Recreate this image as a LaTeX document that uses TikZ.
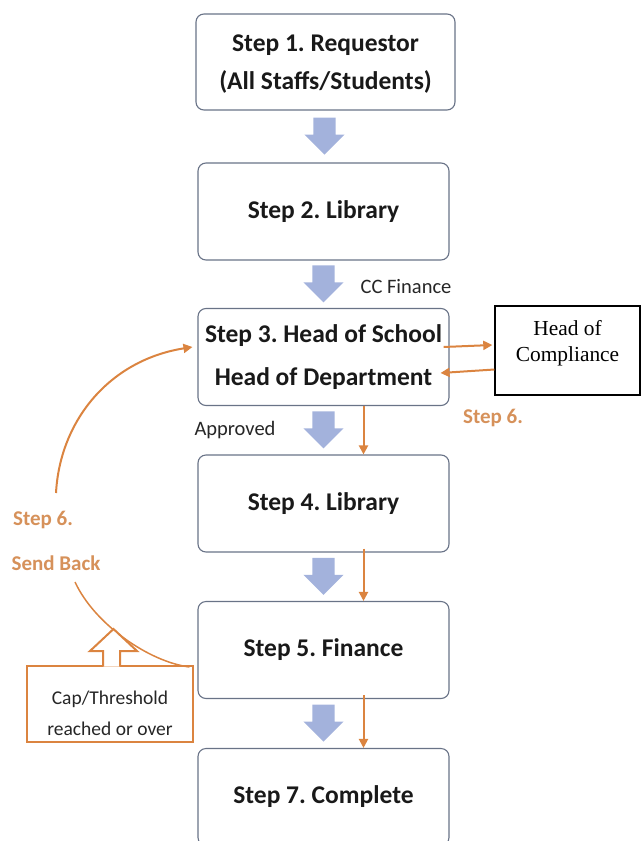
\documentclass[tikz,border=0pt]{standalone}
\usepackage{fontspec}
\setmainfont{Carlito}
\newfontfamily\hocfont{Liberation Serif}
\usetikzlibrary{arrows.meta,calc,shapes.arrows}
\frenchspacing

\definecolor{flowblue}{RGB}{163,178,220}
\definecolor{sendorange}{RGB}{219,132,64}
\definecolor{labelorange}{RGB}{214,145,90}
\definecolor{boxgray}{RGB}{105,115,135}

\tikzset{
  stepbox/.style={draw=boxgray, line width=1.1pt, rounded corners=8pt, minimum width=251pt, minimum height=97pt, align=center, text=black!90, font=\fontsize{25.5}{38}\selectfont\bfseries},
  downarrow/.style={single arrow, fill=flowblue, draw=none, shape border rotate=270, minimum height=37pt, single arrow head extend=9pt, inner sep=11pt, anchor=tail},
  sendarrow/.style={draw=sendorange, line width=2pt, -{Triangle[length=9pt,width=9pt]}},
  sendline/.style={draw=sendorange, line width=1.5pt},
  sendlabel/.style={text=labelorange, font=\fontsize{21}{24}\selectfont\bfseries},
  note/.style={text=black!85, font=\fontsize{20.5}{24}\selectfont},
  hocbox/.style={draw=black, line width=1.4pt, minimum width=145pt, minimum height=89pt, align=center, text depth=19pt, font=\hocfont\fontsize{21.4}{26}\selectfont},
  capbox/.style={draw=sendorange, line width=2pt, minimum width=166pt, minimum height=76pt, align=center, text height=64pt, text=black!85, font=\fontsize{19.5}{31}\selectfont}
}

\begin{document}
\begin{tikzpicture}[x=1pt,y=-1pt]
\useasboundingbox (0,0) rectangle (641,841);

\node[stepbox, minimum width=259pt, minimum height=96pt, text depth=0pt] (step1) at (325.5,62) {Step 1. Requestor\\(All Staffs/Students)};
\node[stepbox] (step2) at (323.5,211.5) {Step 2. Library};
\node[stepbox] (step3) at (323.5,357) {Step 3. Head of School\\[5pt]Head of Department};
\node[stepbox] (step4) at (323.5,503.5) {Step 4. Library};
\node[stepbox] (step5) at (323.5,650) {Step 5. Finance};
\node[stepbox] (step7) at (323.5,797) {Step 7. Complete};

\node[downarrow] (flow1) at ($(step1.south)!0.5!(step2.north)+(0,-19)$) {};
\node[downarrow] (flow2) at ($(step2.south)!0.5!(step3.north)+(0,-19)$) {};
\node[downarrow] (flow3) at ($(step3.south)!0.5!(step4.north)+(0,-19)$) {};
\node[downarrow] (flow4) at ($(step4.south)!0.5!(step5.north)+(0,-19)$) {};
\node[downarrow] (flow5) at ($(step5.south)!0.5!(step7.north)+(0,-19)$) {};

\draw[sendarrow] ([xshift=40pt]step3.south) -- ([xshift=40pt]step4.north);
\draw[sendarrow] ([xshift=40pt,yshift=4pt]step4.south) -- ([xshift=40pt]step5.north);
\draw[sendarrow] ([xshift=40pt,yshift=4pt]step5.south) -- ([xshift=40pt]step7.north);

\node[hocbox] (compliance) at (567.5,350.5) {Head of\\Compliance};
\draw[sendarrow] ([xshift=-6pt,yshift=10pt]step3.east) -- ([xshift=-2pt,yshift=5.5pt]compliance.west);
\draw[sendarrow] ([yshift=-19pt]compliance.west) -- ([xshift=-9pt,yshift=-16pt]step3.east);

\node[note] (ccfinance) at (406,287) {CC Finance};
\node[note] (approved) at (235,430) {Approved};
\node[sendlabel] (step6right) at (493,418) {Step 6.};
\node[sendlabel] (step6left) at (43,520) {Step 6.};
\node[sendlabel] (sendback) at (56,563) {Send Back};

\coordinate (backlow) at (75,582);
\coordinate (backup) at (56,493);
\draw[sendline] ([xshift=-8pt,yshift=-17pt]step5.west) .. controls (150,662) and (95,625) .. (backlow);
\draw[sendarrow] (backup) .. controls (60,420) and (110,360) .. ([xshift=-5pt,yshift=10pt]step3.west);

\node[capbox] (cap) at (110,704) {Cap/Threshold\\reached or over};
\filldraw[fill=white, draw=sendorange, line width=2pt, line join=miter] ([xshift=-7pt,yshift=-1.5pt]cap.north) -- ++(0,-15.5) -- ++(-13,0) -- ++(23.5,-22) -- ++(23.5,22) -- ++(-17,0) -- ++(0,15.5);
\end{tikzpicture}
\end{document}
